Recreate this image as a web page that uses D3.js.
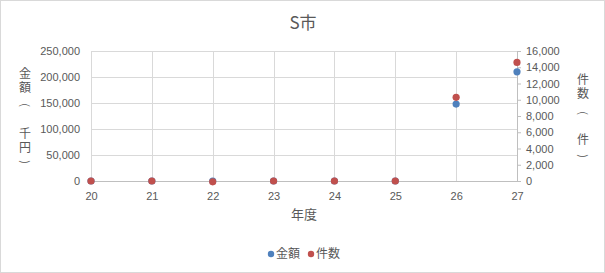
<!DOCTYPE html>
<html>
<head>
<meta charset="utf-8">
<script src="https://cdn.jsdelivr.net/npm/d3@7"></script>
<style>
  body { margin: 0; background: #fff; }
  svg text { font-family: "Liberation Sans", Arial, sans-serif; fill: #595959; }
  .cjk { font-family: "Noto Sans CJK JP", "Noto Sans", sans-serif; }
</style>
</head>
<body>
<div id="chart"></div>
<script>
// data
const years = [20, 21, 22, 23, 24, 25, 26, 27];
const amount = [0, 0, 0, 0, 0, 0, 148000, 210000];   // 金額 (千円)
const count = [0, 0, -100, 0, 0, 0, 10300, 14600];   // 件数 (件)
const leftTicks = [0, 50000, 100000, 150000, 200000, 250000];
const rightTicks = [0, 2000, 4000, 6000, 8000, 10000, 12000, 14000, 16000];

const W = 605, H = 273;
const margin = { top: 51, right: 88, bottom: 92, left: 91 };
const pw = W - margin.left - margin.right;
const ph = H - margin.top - margin.bottom;

const svg = d3.select("#chart").append("svg")
    .attr("width", W)
    .attr("height", H);

// chart border
svg.append("rect")
    .attr("x", 0.5).attr("y", 0.5)
    .attr("width", W - 1).attr("height", H - 1)
    .attr("fill", "#fff")
    .attr("stroke", "#D9D9D9");

const x = d3.scaleLinear().domain([20, 27]).range([0, pw]);
const yL = d3.scaleLinear().domain([0, 250000]).range([ph, 0]);
const yR = d3.scaleLinear().domain([0, 16000]).range([ph, 0]);

const g = svg.append("g")
    .attr("transform", "translate(" + margin.left + "," + margin.top + ")");

// gridlines
g.append("g").selectAll("line")
    .data(leftTicks.slice(1))
    .enter().append("line")
    .attr("x1", 0).attr("x2", pw)
    .attr("y1", d => Math.round(yL(d)) + 0.5)
    .attr("y2", d => Math.round(yL(d)) + 0.5)
    .attr("stroke", "#D9D9D9");

g.append("g").selectAll("line")
    .data(years)
    .enter().append("line")
    .attr("x1", d => Math.round(x(d)) + 0.5)
    .attr("x2", d => Math.round(x(d)) + 0.5)
    .attr("y1", 0).attr("y2", ph)
    .attr("stroke", "#D9D9D9");

// left axis labels
const fmt = d3.format(",");
g.append("g").selectAll("text")
    .data(leftTicks)
    .enter().append("text")
    .attr("x", -11)
    .attr("y", d => yL(d))
    .attr("dy", "0.35em")
    .attr("text-anchor", "end")
    .attr("font-size", 11)
    .text(d => fmt(d));

// right axis
const rAxis = g.append("g")
    .attr("transform", "translate(" + pw + ",0)")
    .call(d3.axisRight(yR).tickValues(rightTicks).tickFormat(fmt).tickSize(4).tickPadding(5));
rAxis.select(".domain").attr("stroke", "#BFBFBF").attr("d", "M0.5,0V" + ph);
rAxis.selectAll(".tick line").attr("stroke", "#BFBFBF");
rAxis.selectAll(".tick text").attr("font-size", 11).attr("fill", "#595959")
    .attr("font-family", "Liberation Sans, Arial, sans-serif");

// bottom axis
const xAxis = g.append("g")
    .attr("transform", "translate(0," + ph + ")")
    .call(d3.axisBottom(x).tickValues(years).tickFormat(d3.format("d")).tickSize(0).tickPadding(11));
xAxis.select(".domain").attr("stroke", "#BFBFBF");
xAxis.selectAll(".tick text").attr("font-size", 11).attr("fill", "#595959")
    .attr("font-family", "Liberation Sans, Arial, sans-serif");

// points
g.append("g").selectAll("circle")
    .data(years.map((d, i) => ({ yr: d, v: amount[i] })))
    .enter().append("circle")
    .attr("cx", d => x(d.yr))
    .attr("cy", d => yL(d.v))
    .attr("r", 3.6)
    .attr("fill", "#4F81BD");

g.append("g").selectAll("circle")
    .data(years.map((d, i) => ({ yr: d, v: count[i] })))
    .enter().append("circle")
    .attr("cx", d => x(d.yr))
    .attr("cy", d => yR(d.v))
    .attr("r", 3.6)
    .attr("fill", "#C0504D");

// title
svg.append("text")
    .attr("class", "cjk")
    .attr("x", 303).attr("y", 29)
    .attr("text-anchor", "middle")
    .attr("font-size", 17)
    .text("S市");

// axis titles: vertical runs of characters, brackets turned sideways
function vword(word, xPos, yMid) {
    svg.append("text")
        .attr("class", "cjk")
        .attr("x", xPos)
        .attr("y", yMid)
        .attr("text-anchor", "middle")
        .attr("font-size", 12)
        .style("writing-mode", "vertical-rl")
        .style("letter-spacing", "2px")
        .text(word);
}
function bracket(ch, xPos, yPos) {
    svg.append("text")
        .attr("class", "cjk")
        .attr("transform", "translate(" + xPos + "," + yPos + ") rotate(90)")
        .attr("dy", "0.35em")
        .attr("text-anchor", "middle")
        .attr("font-size", 11)
        .text(ch);
}
vword("金額", 25, 81);
bracket("(", 25, 105);
vword("千円", 25, 141);
bracket(")", 25, 162);

vword("件数", 583, 87);
bracket("(", 583, 113);
vword("件", 583, 140);
bracket(")", 583, 156);

svg.append("text")
    .attr("class", "cjk")
    .attr("x", 304).attr("y", 214)
    .attr("dy", "0.35em")
    .attr("text-anchor", "middle")
    .attr("font-size", 13)
    .text("年度");

// legend
const legendItems = [{ name: "金額", color: "#4F81BD" }, { name: "件数", color: "#C0504D" }];
const leg = svg.append("g").attr("transform", "translate(271,254)");
legendItems.forEach((d, i) => {
    const lg = leg.append("g").attr("transform", "translate(" + (i * 40) + ",0)");
    lg.append("circle").attr("r", 3.2).attr("fill", d.color);
    lg.append("text")
        .attr("class", "cjk")
        .attr("x", 5)
        .attr("dy", "0.35em")
        .attr("font-size", 12)
        .text(d.name);
});
</script>
</body>
</html>
